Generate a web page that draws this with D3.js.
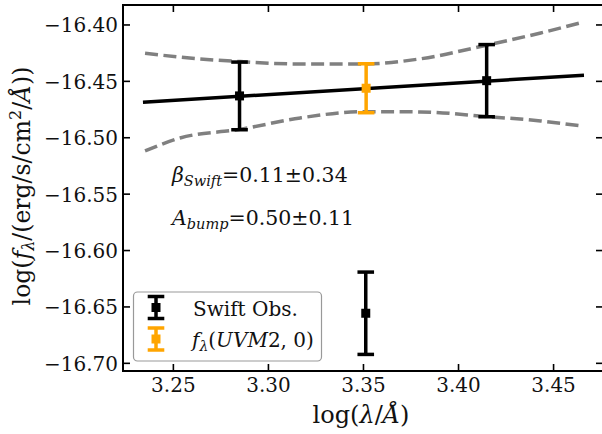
<!DOCTYPE html>
<html><head><meta charset="utf-8">
<script src="https://cdn.jsdelivr.net/npm/d3@7"></script>
<style>
html,body{margin:0;padding:0;background:#fff;}
svg{display:block;font-family:"DejaVu Serif",serif;}
</style></head>
<body><svg id="c" width="602" height="434"></svg>
<script>
// ---- data ----
const obsX = [3.2848, 3.4148, 3.3512];
const obsY = [-16.4629, -16.4494, -16.6556];
const obsErr = [0.030, 0.032, 0.0365];
const uvmX = [3.3514];
const uvmY = [-16.4561];
const uvmErr = [0.0217];
const fitX = [3.234, 3.466];
const fitY = [-16.4685, -16.4445];
const bandX = [3.2351, 3.2535, 3.2852, 3.3168, 3.3500, 3.3800, 3.4153, 3.4432, 3.4643];
const bandUpper = [-16.4251, -16.4285, -16.4325, -16.4346, -16.4346, -16.4300, -16.4177, -16.4071, -16.3980];
const bandLower = [-16.5117, -16.5002, -16.4925, -16.4824, -16.4769, -16.4771, -16.4813, -16.4851, -16.4895];
const xTicks = [3.25, 3.30, 3.35, 3.40, 3.45];
const yTicks = [-16.40, -16.45, -16.50, -16.55, -16.60, -16.65, -16.70];

const svg = d3.select("#c");
const L = 123, R = 603, T = 5, B = 371;
const x = d3.scaleLinear().domain([3.2235, 3.476]).range([L, R]);
const y = d3.scaleLinear().domain([-16.7068, -16.3823]).range([B, T]);
const fmtY = v => "\u2212" + Math.abs(v).toFixed(2);
const fs = 20;
const tc = "#111";

// band
const ln = d3.line().x(d => x(d[0])).y(d => y(d[1])).curve(d3.curveMonotoneX);
[bandUpper, bandLower].forEach(arr => {
  svg.append("path").attr("d", ln(bandX.map((v, i) => [v, arr[i]])))
    .attr("fill", "none").attr("stroke", "#808080").attr("stroke-width", 3.5)
    .attr("stroke-dasharray", "13,5.5");
});
// fit line
svg.append("path").attr("d", d3.line().x(d => x(d[0])).y(d => y(d[1]))(fitX.map((v, i) => [v, fitY[i]])))
  .attr("fill", "none").attr("stroke", "#000").attr("stroke-width", 3.5);

function errbar(g, cx, cy, lo, hi, col) {
  g.append("line").attr("x1", cx).attr("x2", cx).attr("y1", lo).attr("y2", hi)
    .attr("stroke", col).attr("stroke-width", 3.5);
  [lo, hi].forEach(v => g.append("line").attr("x1", cx - 8.3).attr("x2", cx + 8.3)
    .attr("y1", v).attr("y2", v).attr("stroke", col).attr("stroke-width", 3.5));
  g.append("rect").attr("x", cx - 4.5).attr("y", cy - 4.5).attr("width", 9).attr("height", 9).attr("fill", col);
}
const gd = svg.append("g");
obsX.forEach((v, i) => errbar(gd, x(v), y(obsY[i]), y(obsY[i] - obsErr[i]), y(obsY[i] + obsErr[i]), "#000"));
uvmX.forEach((v, i) => errbar(gd, x(v), y(uvmY[i]), y(uvmY[i] - uvmErr[i]), y(uvmY[i] + uvmErr[i]), "#FFA500"));

// axes frame
svg.append("rect").attr("x", L).attr("y", T).attr("width", R - L).attr("height", B - T)
  .attr("fill", "none").attr("stroke", "#000").attr("stroke-width", 2);

const tk = 7;
xTicks.forEach(v => {
  svg.append("line").attr("x1", x(v)).attr("x2", x(v)).attr("y1", B).attr("y2", B - tk).attr("stroke", "#000").attr("stroke-width", 1.6);
  svg.append("line").attr("x1", x(v)).attr("x2", x(v)).attr("y1", T).attr("y2", T + tk).attr("stroke", "#000").attr("stroke-width", 1.6);
  svg.append("text").attr("x", x(v)).attr("y", 392).attr("text-anchor", "middle")
    .attr("font-size", fs).attr("fill", tc).text(v.toFixed(2));
});
yTicks.forEach(v => {
  svg.append("line").attr("x1", L).attr("x2", L + tk).attr("y1", y(v)).attr("y2", y(v)).attr("stroke", "#000").attr("stroke-width", 1.6);
  svg.append("line").attr("x1", R).attr("x2", R - tk).attr("y1", y(v)).attr("y2", y(v)).attr("stroke", "#000").attr("stroke-width", 1.6);
  svg.append("text").attr("x", 118).attr("y", y(v) + 7.5).attr("text-anchor", "end")
    .attr("font-size", fs).attr("fill", tc).text(fmtY(v));
});

// x label
const xl = svg.append("text").attr("x", 361).attr("y", 423).attr("text-anchor", "middle").attr("font-size", 24).attr("fill", tc);
xl.append("tspan").text("log(");
xl.append("tspan").attr("font-style", "italic").text("\u03bb");
xl.append("tspan").text("/");
xl.append("tspan").attr("font-style", "italic").text("\u00c5");
xl.append("tspan").text(")");

// y label
const yl = svg.append("text").attr("transform", "translate(30,186) rotate(-90)").attr("text-anchor", "middle").attr("font-size", 23.5).attr("fill", tc);
yl.append("tspan").text("log(");
yl.append("tspan").attr("font-style", "italic").text("f");
yl.append("tspan").attr("font-style", "italic").attr("font-size", 16).attr("dy", 4).text("\u03bb");
yl.append("tspan").attr("dy", -4).text("/(erg/s/cm");
yl.append("tspan").attr("font-size", 16).attr("dy", -9).text("2");
yl.append("tspan").attr("dy", 9).text("/");
yl.append("tspan").attr("font-style", "italic").text("\u00c5");
yl.append("tspan").text("))");

// annotations
const a1 = svg.append("text").attr("x", 172).attr("y", 182).attr("font-size", 20.5).attr("fill", tc);
a1.append("tspan").attr("font-style", "italic").text("\u03b2");
a1.append("tspan").attr("font-style", "italic").attr("font-size", 14.5).attr("dy", 4).text("Swift");
a1.append("tspan").attr("dy", -4).text("=0.11\u00b10.34");
const a2 = svg.append("text").attr("x", 172).attr("y", 225).attr("font-size", 20.5).attr("fill", tc);
a2.append("tspan").attr("font-style", "italic").text("A");
a2.append("tspan").attr("font-style", "italic").attr("font-size", 14.5).attr("dy", 4).text("bump");
a2.append("tspan").attr("dy", -4).text("=0.50\u00b10.11");

// legend
const lg = svg.append("g");
lg.append("rect").attr("x", 133.5).attr("y", 292).attr("width", 188).attr("height", 69).attr("rx", 4)
  .attr("fill", "#fff").attr("fill-opacity", 0.8).attr("stroke", "#999").attr("stroke-width", 1.2);
errbar(lg, 156, 307.5, 296.5, 318.5, "#000");
errbar(lg, 156, 339, 328, 350, "#FFA500");
lg.append("text").attr("x", 193).attr("y", 316).attr("font-size", fs).attr("fill", tc).text("Swift Obs.");
const l2 = lg.append("text").attr("x", 192).attr("y", 347).attr("font-size", fs).attr("fill", tc);
l2.append("tspan").attr("font-style", "italic").text("f");
l2.append("tspan").attr("font-style", "italic").attr("font-size", 14).attr("dy", 4).text("\u03bb");
l2.append("tspan").attr("dy", -4).text("(");
l2.append("tspan").attr("font-style", "italic").text("UVM");
l2.append("tspan").text("2, 0)");
</script></body></html>
